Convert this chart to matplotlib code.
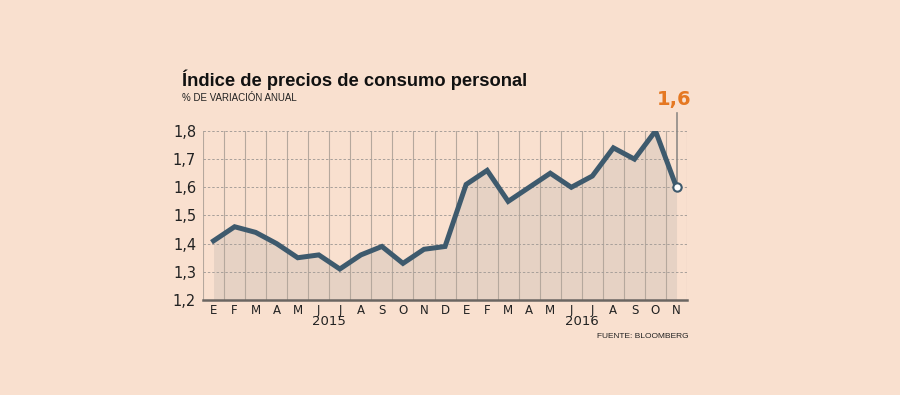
import matplotlib.pyplot as plt

# monthly data, Jan 2015 - Nov 2016
months = ['E', 'F', 'M', 'A', 'M', 'J', 'J', 'A', 'S', 'O', 'N', 'D',
          'E', 'F', 'M', 'A', 'M', 'J', 'J', 'A', 'S', 'O', 'N']
values = [1.41, 1.46, 1.44, 1.40, 1.35, 1.36, 1.31, 1.36, 1.39, 1.33, 1.38, 1.39,
          1.61, 1.66, 1.55, 1.60, 1.65, 1.60, 1.64, 1.74, 1.70, 1.80, 1.60]
years = ['2015', '2016']
yticks = [1.2, 1.3, 1.4, 1.5, 1.6, 1.7, 1.8]

bg = '#f9e0cf'
line_c = '#3e5a6d'
fill_c = '#e6d2c4'
orange = '#e57822'
lib = ['Liberation Sans', 'DejaVu Sans']

fig = plt.figure(figsize=(9, 3.95), dpi=100, facecolor=bg)
ax = fig.add_axes([0.2256, 0.2405, 0.5378, 0.428])
ax.set_facecolor(bg)

x = list(range(len(values)))
ax.fill_between(x, 1.2, values, color=fill_c, zorder=1, linewidth=0)
ax.plot(x, values, color=line_c, lw=3.6, solid_joinstyle='miter', zorder=3)
ax.plot(x[-1], values[-1], 'o', ms=6, mfc='white', mec=line_c, mew=1.5, zorder=4)

# grid: vertical solid between months, horizontal dashed
for k in range(len(values) + 1):
    ax.axvline(k - 0.5, color='#b5a89d', lw=0.8, zorder=2)
for v in yticks[1:]:
    ax.axhline(v, color='#a8a09a', lw=0.7, ls=(0, (2.5, 2)), zorder=2)

ax.set_xlim(-0.5, len(values) - 0.5)
ax.set_ylim(1.2, 1.8)
for s in ['top', 'right', 'left']:
    ax.spines[s].set_visible(False)
ax.spines['bottom'].set_color('#6b6662')
ax.spines['bottom'].set_linewidth(1.8)
ax.spines['bottom'].set_zorder(5)

ax.set_yticks(yticks)
ax.set_yticklabels([f'{v:.1f}'.replace('.', ',') for v in yticks],
                   fontsize=10.5, color='#222222')
ax.set_xticks(x)
ax.set_xticklabels(months, fontsize=8.5, color='#222222')
ax.tick_params(length=0, pad=3)
ax.tick_params(axis='y', pad=5)

ax.text(5.5, -0.13, years[0], transform=ax.get_xaxis_transform(),
        ha='center', va='center', fontsize=9.5, color='#222222')
ax.text(17.5, -0.13, years[1], transform=ax.get_xaxis_transform(),
        ha='center', va='center', fontsize=9.5, color='#222222')

# callout for last value
ax.plot([x[-1], x[-1]], [values[-1], 1.865], color='#8f8a86', lw=1.2,
        zorder=2, clip_on=False)
ax.text(x[-1] - 0.1, 1.91, '1,6', ha='center', va='center', fontsize=14,
        fontweight='bold', color=orange)

fig.text(182 / 900, 1 - 80 / 395, 'Índice de precios de consumo personal',
         fontsize=13.2, fontweight='bold', family=lib,
         ha='left', va='center', color='#111111')
fig.text(182 / 900, 1 - 98 / 395, '% DE VARIACIÓN ANUAL', fontsize=7,
         family=lib, ha='left', va='center', color='#222222')
fig.text(689 / 900, 1 - 337 / 395, 'FUENTE: BLOOMBERG', fontsize=6,
         family=lib, ha='right', va='center', color='#222222')

fig.savefig('out.png', dpi=100, facecolor=bg)
